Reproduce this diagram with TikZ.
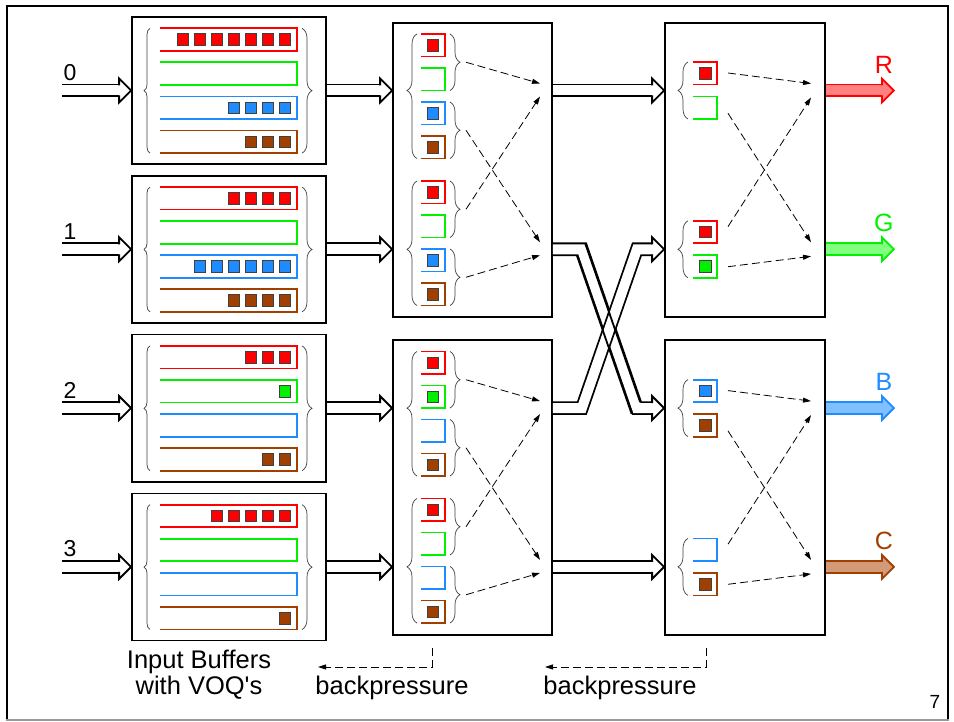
\documentclass[tikz,border=0pt]{standalone}
\usepackage{fontspec}
\setmainfont{Liberation Sans}
\usetikzlibrary{arrows.meta,decorations.pathreplacing,decorations.markings}

\definecolor{qrot}{HTML}{FF0000}
\definecolor{qgruen}{HTML}{00F000}
\definecolor{qblau}{HTML}{1E8CFF}
\definecolor{qbraun}{HTML}{A04000}
\definecolor{hrot}{HTML}{FF8080}
\definecolor{hgruen}{HTML}{80FF80}
\definecolor{hblau}{HTML}{80C0FF}
\definecolor{hbraun}{HTML}{D49A78}

\tikzset{
	kasten/.style={draw, line width=1.8pt, fill=white, inner sep=0pt},
	schlange/.style={draw=#1, line width=1.8pt},
	paket/.style={draw=black!75, line width=0.8pt},
	klammer/.style={decorate, decoration={brace, amplitude=#1}, draw=black!75, line width=0.7pt},
	strich/.style={dash pattern=on 8pt off 4pt, line width=0.8pt, -{Triangle[length=8pt,width=5pt]}},
	dick/.style 2 args={
		postaction={draw=#1, double=#2, line width=1.8pt, double distance=10pt, shorten >=9pt},
		postaction={decorate, decoration={markings, mark=at position 1 with {
			\fill[#2] (-12,-12) -- (0,0) -- (-12,12) -- cycle;
			\draw[#1, line width=1.8pt] (-12,-5) -- (-12,-12) -- (0,0) -- (-12,12) -- (-12,5);}}}},
	nummer/.style={font=\fontsize{23}{26}\selectfont},
	ausgang/.style={text=#1, font=\fontsize{25}{28}\selectfont},
	unten/.style={font=\fontsize{25.5}{26}\selectfont, align=center}
}

\begin{document}
\begin{tikzpicture}[x=1pt, y=-1pt]
	\useasboundingbox (0,0) rectangle (954,722);
	% Rahmen der Folie
	\draw[line width=2pt] (7,720) -- (7,6) -- (948,6) -- (948,720);
	\draw[line width=2pt, black!40] (6,720) -- (949,720);
	
	% Zielpunkte der gestrichelten Pfeile
	\foreach \i/\y in {0/90.5, 1/249.3, 2/408.1, 3/566.9} {
		\coordinate (z1-\i-o) at (540,\y-7);
		\coordinate (z1-\i-u) at (540,\y+6);
		\coordinate (z2-\i-o) at (811,\y-7);
		\coordinate (z2-\i-u) at (811,\y+7);
	}
	
	% Eingangspuffer mit VOQs (Anzahl Pakete je Farbe)
	\foreach \e/\y/\mr/\mg/\mb/\mc in {0/90.5/7/0/4/3, 1/249.3/4/0/6/4, 2/408.1/3/1/0/2, 3/566.9/5/0/0/1} {
		\node[kasten, minimum width=194pt, minimum height=147pt] (ib\e) at (229,\y) {};
		\coordinate (in\e) at (62,\y);
		\node[nummer] (nr\e) at (70,\y-18) {\e};
		\draw[klammer=6] (150,\y+62.6) -- (150,\y-62.2);
		\draw[klammer=10] (302,\y-62.2) -- (302,\y+62.6);
		\foreach \farbe/\anz [count=\q from 0] in {qrot/\mr, qgruen/\mg, qblau/\mb, qbraun/\mc} {
			\draw[schlange=\farbe] (160,\y-62.2+34.1*\q) -| (297,\y-39.7+34.1*\q) -- (160,\y-39.7+34.1*\q);
			\ifnum\anz>0
				\foreach \i in {1,...,\anz}
					\filldraw[paket, fill=\farbe] (296.2-17*\i,\y-56.7+34.1*\q) rectangle ++(11.5,11.5);
			\fi
		}
	}
	
	% erste Stufe
	\node[kasten, minimum width=159pt, minimum height=294pt] (s1a) at (472.5,170) {};
	\node[kasten, minimum width=159pt, minimum height=295pt] (s1b) at (472.5,487.5) {};
	\foreach \ob/\asp/\ra/\rb/\sd/\pr/\pg/\pb/\pc in {34/0.546/0/1/o/1/0/1/1, 181/0.451/0/1/u/1/0/1/1, 351.5/0.545/2/3/o/1/1/0/1, 498.5/0.451/2/3/u/1/0/0/1} {
		\draw[klammer=10, decoration={aspect=\asp}] (417,\ob+124.5) -- (417,\ob);
		\foreach \farbe/\pk [count=\q from 0] in {qrot/\pr, qgruen/\pg, qblau/\pb, qbraun/\pc} {
			\draw[schlange=\farbe] (421,\ob+34*\q) -| (445,\ob+22.5+34*\q) -- (421,\ob+22.5+34*\q);
			\ifnum\pk=1 \filldraw[paket, fill=\farbe] (427.2,\ob+5.5+34*\q) rectangle ++(11.5,11.5); \fi
		}
		\draw[klammer=10] (450,\ob) -- (450,\ob+56.5);
		\draw[klammer=10] (450,\ob+68) -- (450,\ob+124.5);
		\coordinate (k\ra\sd) at (466,\ob+28.25);
		\coordinate (k\rb\sd) at (466,\ob+96.25);
		\draw[strich] (k\ra\sd) -- (z1-\ra-\sd);
		\draw[strich] (k\rb\sd) -- (z1-\rb-\sd);
	}
	
	% zweite Stufe
	\node[kasten, minimum width=160pt, minimum height=294pt] (s2a) at (745,170) {};
	\node[kasten, minimum width=160pt, minimum height=295pt] (s2b) at (745,487.5) {};
	\foreach \y/\fa/\fb/\pa/\pb/\ra/\rb/\sd/\ya/\yb in {90.5/qrot/qgruen/1/0/0/1/o/-17.5/22.8, 249.3/qrot/qgruen/1/1/0/1/u/-22.7/17.4, 408.1/qblau/qbraun/1/1/2/3/o/-17.5/22.8, 566.9/qblau/qbraun/0/1/2/3/u/-22.7/17.4} {
		\draw[klammer=10] (688,\y+28.5) -- (688,\y-28.5);
		\draw[schlange=\fa] (693,\y-28.5) -| (717,\y-6) -- (693,\y-6);
		\draw[schlange=\fb] (693,\y+6) -| (717,\y+28.5) -- (693,\y+28.5);
		\ifnum\pa=1 \filldraw[paket, fill=\fa] (699.5,\y-23) rectangle ++(11.5,11.5); \fi
		\ifnum\pb=1 \filldraw[paket, fill=\fb] (699.5,\y+11.5) rectangle ++(11.5,11.5); \fi
		\coordinate (q\ra\sd) at (728,\y+\ya);
		\coordinate (q\rb\sd) at (728,\y+\yb);
		\draw[strich] (q\ra\sd) -- (z2-\ra-\sd);
		\draw[strich] (q\rb\sd) -- (z2-\rb-\sd);
	}
	
	% Verbindungen zwischen den Stufen
	\foreach \e in {0,...,3} {
		\path[dick={black}{white}] (in\e) -- (ib\e.west);
		\path[dick={black}{white}] (ib\e.east) -- (ib\e.east -| s1a.west);
	}
	\path[dick={black}{white}] (ib0.east -| s1a.east) -- (ib0.east -| s2a.west);
	\path[dick={black}{white}] (ib3.east -| s1b.east) -- (ib3.east -| s2b.west);
	\path[dick={black}{white}] (ib1.east -| s1a.east) -- ++(29,0) -- ++(55,158.8) -- (ib2.east -| s2b.west);
	\path[dick={black}{white}] (ib2.east -| s1b.east) -- ++(29,0) -- ++(55,-158.8) -- (ib1.east -| s2a.west);
	% Kreuzung: Kanten des ersten Pfeils nachziehen
	\draw[line width=1.8pt] (585.2,243.4) -- (640.2,402.2) (576.8,255.2) -- (631.7,414.0);
	
	% Ausgaenge
	\foreach \e/\farbe/\hell/\name in {0/qrot/hrot/R, 1/qgruen/hgruen/G, 2/qblau/hblau/B, 3/qbraun/hbraun/C} {
		\path (s2a.east |- ib\e.east) ++(68,0) coordinate (aus\e);
		\path[dick={\farbe}{\hell}] (s2a.east |- ib\e.east) -- (aus\e);
		\node[ausgang=\farbe] (lb\name) at ([xshift=-10pt, yshift=26pt]aus\e) {\name};
	}
	
	% Beschriftung unten
	\node[unten] (puffer) at (199,675) {Input Buffers\\with VOQ\textquotesingle s};
	\coordinate (bp1a) at (432,648);
	\coordinate (bp1b) at (318,667);
	\draw[strich] (bp1a) |- (bp1b);
	\node[unten] (bp1) at (392,688) {backpressure};
	\coordinate (bp2a) at (706,648);
	\coordinate (bp2b) at (545,667);
	\draw[strich] (bp2a) |- (bp2b);
	\node[unten] (bp2) at (620,688) {backpressure};
	\node[font=\fontsize{19}{20}\selectfont] (seite) at (935,702) {7};
\end{tikzpicture}
\end{document}
